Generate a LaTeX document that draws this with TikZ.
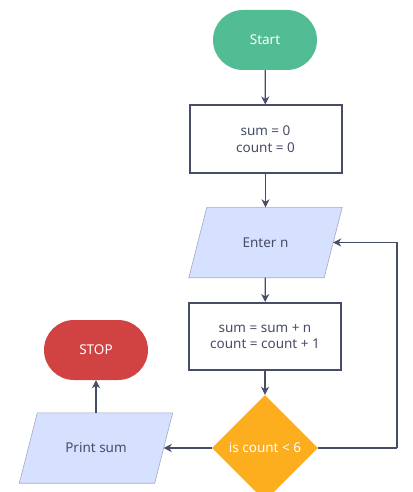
\documentclass[tikz,border=0pt]{standalone}
\usepackage{fontspec}
\setmainfont{Noto Sans}
\usetikzlibrary{shapes.geometric,arrows.meta,backgrounds}
\definecolor{ink}{HTML}{474D66}
\definecolor{startg}{HTML}{52BD94}
\definecolor{stopr}{HTML}{D14343}
\definecolor{decor}{HTML}{FCAE1E}
\definecolor{iofill}{HTML}{D6E0FF}
\definecolor{iodraw}{HTML}{A3ABC2}
\tikzset{
  term/.style={rectangle, rounded corners=30pt, minimum width=104pt, minimum height=60pt, text=white, inner sep=0pt},
  procbox/.style={rectangle, draw=ink, line width=2pt, fill=white, minimum width=152pt, minimum height=67pt, text=ink, align=center, inner sep=0pt},
  iobox/.style={rectangle, minimum width=153pt, minimum height=70pt, text=ink, inner sep=0pt},
  iopath/.style={fill=iofill, draw=iodraw, line width=0.6pt},
  decbox/.style={diamond, aspect=1, fill=decor, minimum width=106pt, minimum height=106pt, text=white, inner sep=0pt},
  flow/.style={draw=ink, line width=1.2pt, -{Stealth[length=8pt,width=8pt,inset=2.5pt]}},
}
\begin{document}
\begin{tikzpicture}[x=1pt,y=-1pt, font=\fontsize{13.5pt}{16.5pt}\selectfont]
\useasboundingbox (0,0) rectangle (412,492);
\node[term, fill=startg] (start) at (265,40) {Start};
\node[procbox] (init) at (265.5,139) {sum = 0\\count = 0};
\node[iobox] (enter) at (265.5,242.5) {Enter n};
\node[procbox] (update) at (265,336.5) {sum = sum + n\\count = count + 1};
\node[decbox] (dec) at (265,448) {is count < 6};
\node[iobox] (print) at (96,448) {Print sum};
\node[term, fill=stopr] (stop) at (96,350) {STOP};
\begin{scope}[on background layer]
\filldraw[iopath] ([xshift=18pt]enter.north west) -- (enter.north east) -- ([xshift=-18pt]enter.south east) -- (enter.south west) -- cycle;
\filldraw[iopath] ([xshift=18pt]print.north west) -- (print.north east) -- ([xshift=-18pt]print.south east) -- (print.south west) -- cycle;
\end{scope}
\coordinate (loopc) at (397,448);
\coordinate (enterin) at ([xshift=-9pt]enter.east);
\coordinate (printin) at ([xshift=-9pt]print.east);
\draw[flow] (start) -- (init);
\draw[flow] (init) -- (enter);
\draw[flow] (enter) -- (update);
\draw[flow] (update) -- (dec);
\draw[flow, -] (dec.east) -- (loopc);
\draw[flow] (loopc) |- (enterin);
\draw[flow] (dec.west) -- (printin);
\draw[flow] (print) -- (stop);
\end{tikzpicture}
\end{document}
